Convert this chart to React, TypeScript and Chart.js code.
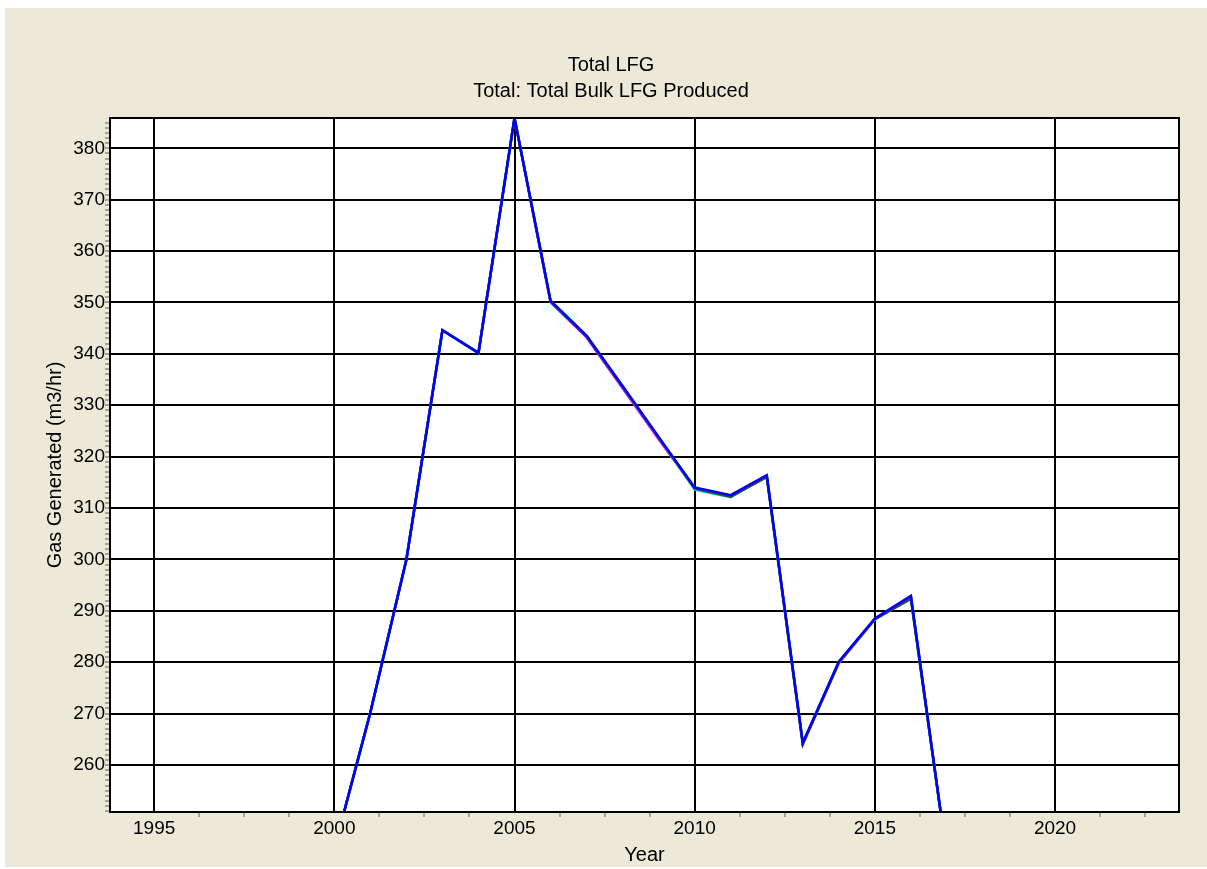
import React, { useEffect, useRef } from "react";
import { Chart, registerables } from "chart.js";

Chart.register(...registerables);

const titleLines = ["Total LFG", "Total: Total Bulk LFG Produced"];
const xTitle = "Year";
const yTitle = "Gas Generated (m3/hr)";

const years = [2000, 2001, 2002, 2003, 2004, 2005, 2006, 2007, 2008, 2009, 2010, 2011, 2012, 2013, 2014, 2015, 2016, 2017];

const seriesMagenta = [243.7, 270.2, 300.0, 344.6, 340.2, 385.9, 350.0, 343.2, 333.3, 323.4, 313.8, 312.4, 316.3, 264.2, 279.8, 288.3, 292.8, 242.0];
const seriesGreen = [243.7, 270.2, 300.0, 344.6, 340.2, 385.9, 350.2, 343.4, 333.6, 323.7, 313.9, 312.4, 316.3, 264.3, 280.0, 288.4, 292.7, 242.0];
const seriesCyan = [243.7, 270.2, 300.0, 344.6, 340.2, 385.9, 350.3, 343.5, 333.7, 323.8, 313.6, 312.1, 316.2, 264.2, 280.0, 288.3, 292.5, 242.0];
const seriesBlack = [243.7, 270.2, 300.0, 344.6, 340.2, 385.9, 350.3, 343.5, 333.7, 323.8, 313.8, 312.2, 316.0, 264.0, 280.0, 288.4, 292.3, 242.0];
const seriesBlue = [243.7, 270.2, 300.0, 344.6, 340.2, 385.9, 350.3, 343.5, 333.7, 323.8, 314.0, 312.5, 316.4, 264.3, 280.1, 288.5, 292.9, 242.0];

const xMin = 1993.775;
const xMax = 2023.44;
const yMin = 250.85;
const yMax = 385.9;
const xTickStart = 1995;
const xTickStep = 1.25;
const xTickCount = 23;
const yTickStart = 251;
const yTickEnd = 385;

const FONT = "'Liberation Sans', Arial, sans-serif";
const BEIGE = "#ECE9D8";

const panelPlugin = {
  id: "panel",
  beforeDraw(chart: any) {
    const { ctx, chartArea, width, height } = chart;
    ctx.save();
    ctx.fillStyle = BEIGE;
    ctx.fillRect(0, 0, width, height);
    ctx.fillStyle = "#ffffff";
    ctx.fillRect(chartArea.left, chartArea.top, chartArea.right - chartArea.left, chartArea.bottom - chartArea.top);
    ctx.restore();
  },
  afterDraw(chart: any) {
    const { ctx, chartArea } = chart;
    ctx.save();
    ctx.strokeStyle = "#000";
    ctx.lineWidth = 2;
    ctx.strokeRect(chartArea.left, chartArea.top, chartArea.right - chartArea.left, chartArea.bottom - chartArea.top);
    ctx.restore();
  },
};

function mk(label: string, vals: number[], color: string) {
  return {
    label,
    data: years.map((y, i) => ({ x: y, y: vals[i] })),
    borderColor: color,
    backgroundColor: color,
    borderWidth: 2.5,
    pointRadius: 0,
    tension: 0,
    fill: false,
  };
}

export default function App() {
  const ref = useRef<HTMLCanvasElement | null>(null);
  useEffect(() => {
    if (!ref.current) return;
    const chart = new Chart(ref.current, {
      type: "line",
      data: {
        // first dataset is drawn on top
        datasets: [
          mk("E", seriesBlue, "#0000ff"),
          mk("D", seriesBlack, "#404040"),
          mk("C", seriesCyan, "#00c8c8"),
          mk("B", seriesGreen, "#00a000"),
          mk("A", seriesMagenta, "#ff00ff"),
        ],
      },
      options: {
        animation: false,
        responsive: false,
        layout: { padding: 0 },
        plugins: {
          legend: { display: false },
          tooltip: { enabled: false },
          title: {
            display: true,
            text: titleLines,
            color: "#000",
            font: { family: FONT, size: 20, weight: "normal", lineHeight: 26 / 20 },
            padding: { top: 44.5, bottom: 13.5 },
          },
        },
        scales: {
          x: {
            type: "linear",
            min: xMin,
            max: xMax,
            afterBuildTicks: (s: any) => {
              const t = [];
              for (let i = 0; i < xTickCount; i++) t.push({ value: xTickStart + i * xTickStep });
              s.ticks = t;
            },
            afterFit: (s: any) => {
              s.height = 55;
            },
            ticks: {
              autoSkip: false,
              maxRotation: 0,
              padding: 0,
              color: "#000",
              font: { family: FONT, size: 19 },
              callback: (v: any) => (Number(v) % 5 === 0 ? String(v) : ""),
            },
            grid: {
              color: (c: any) => (c.tick && c.tick.value % 5 === 0 ? "#000" : "rgba(0,0,0,0)"),
              lineWidth: 2,
              tickColor: (c: any) => (c.tick && c.tick.value % 5 === 0 ? "rgba(0,0,0,0)" : "#8c8c8c"),
              tickWidth: 1.5,
              tickLength: 5,
            },
            border: { display: true, color: "#000", width: 2 },
            title: {
              display: true,
              text: xTitle,
              color: "#000",
              font: { family: FONT, size: 20 },
              padding: { top: 0, bottom: 0 },
            },
          },
          y: {
            type: "linear",
            min: yMin,
            max: yMax,
            afterBuildTicks: (s: any) => {
              const t = [];
              for (let v = yTickStart; v <= yTickEnd; v++) t.push({ value: v });
              s.ticks = t;
            },
            afterFit: (s: any) => {
              s.width = 105;
            },
            ticks: {
              autoSkip: false,
              padding: 0,
              color: "#000",
              font: { family: FONT, size: 19 },
              callback: (v: any) => (Number(v) % 10 === 0 ? String(v) : ""),
            },
            grid: {
              color: (c: any) => (c.tick && c.tick.value % 10 === 0 ? "#000" : "rgba(0,0,0,0)"),
              lineWidth: 2,
              tickColor: "#8c8c8c",
              tickWidth: 1.5,
              tickLength: 5,
            },
            border: { display: true, color: "#000", width: 2 },
            title: {
              display: true,
              text: yTitle,
              color: "#000",
              font: { family: FONT, size: 20 },
              padding: { top: 38, bottom: 0 },
            },
          },
          yR: {
            type: "linear",
            position: "right",
            display: true,
            afterFit: (s: any) => {
              s.width = 38;
            },
            ticks: { display: false },
            grid: { display: false, drawTicks: false },
            border: { display: false },
          },
        },
      } as any,
      plugins: [panelPlugin],
    });
    return () => chart.destroy();
  }, []);

  return (
    <div
      style={{
        position: "fixed",
        left: 5,
        top: 8,
        width: 1202,
        height: 859,
        overflow: "hidden",
        background: BEIGE,
      }}
    >
      <canvas ref={ref} width={1212} height={859} style={{ display: "block" }} />
    </div>
  );
}
